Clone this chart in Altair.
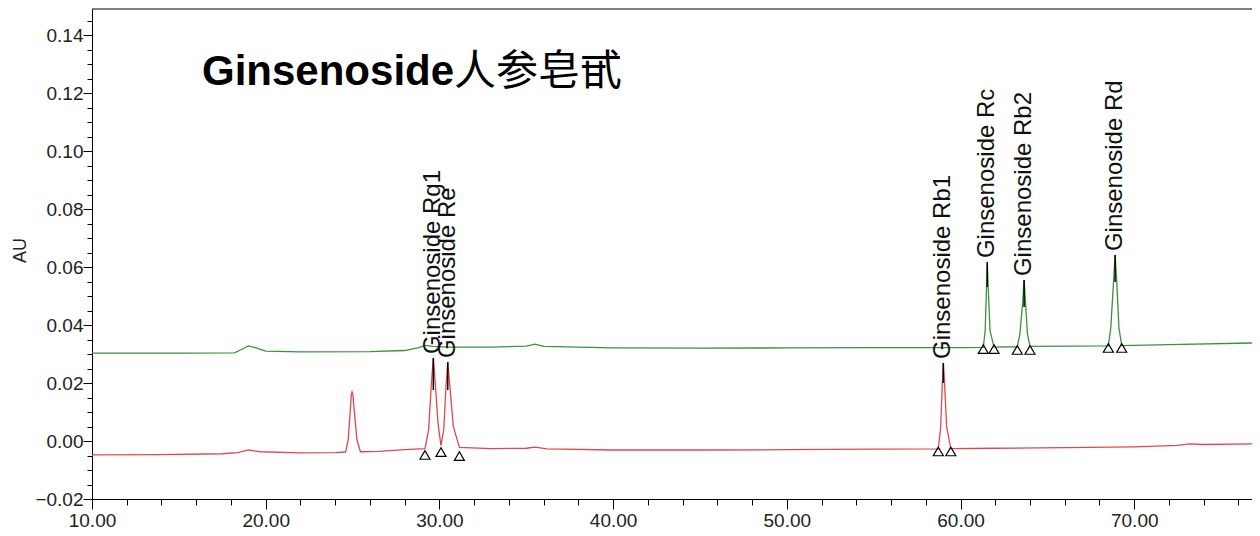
import altair as alt
import pandas as pd

# ---- data ----
red_t = [10.0, 14.0, 17.5, 18.4, 19.0, 19.7, 22.0, 24.0, 24.6, 24.75, 24.85, 24.93, 24.97, 25.02, 25.12, 25.25, 25.45,
         26.5, 28.0, 29.17, 29.38, 29.54, 29.65, 29.76, 29.92, 30.09, 30.25, 30.38, 30.48, 30.6, 30.8, 31.15,
         33.0, 35.0, 35.5, 36.2, 40.0, 45.0, 50.0, 55.0, 58.72, 58.86, 58.95, 59.01, 59.08, 59.2, 59.44,
         62.0, 66.0, 70.0, 72.5, 73.2, 74.0, 76.8]
red_au = [-0.0048, -0.0047, -0.0044, -0.0040, -0.0031, -0.0037, -0.0041, -0.0040, -0.0038, 0.0005, 0.0090, 0.0160, 0.0169, 0.0160, 0.0090, 0.0005, -0.0037,
          -0.0036, -0.0030, -0.0026, 0.0040, 0.0200, 0.0286, 0.0200, 0.0060, -0.0016, 0.0040, 0.0190, 0.0272, 0.0190, 0.0050, -0.0022,
          -0.0026, -0.0025, -0.0021, -0.0027, -0.0031, -0.0031, -0.0030, -0.0028, -0.0027, 0.0050, 0.0200, 0.0269, 0.0200, 0.0050, -0.0026,
          -0.0025, -0.0023, -0.0020, -0.0015, -0.0010, -0.0012, -0.0010]

green_t = [10.0, 15.0, 18.2, 18.7, 19.0, 19.4, 20.0, 22.0, 26.0, 28.0, 28.8, 29.2, 29.6, 30.5, 33.0, 35.0, 35.5, 36.0,
           40.0, 45.0, 50.0, 55.0, 60.0, 61.31, 61.42, 61.49, 61.54, 61.6, 61.7, 61.93,
           63.27, 63.42, 63.58, 63.66, 63.74, 63.85, 64.0, 68.51, 68.65, 68.8, 68.9, 69.0, 69.12, 69.28, 72.0, 76.8]
green_au = [0.0303, 0.0303, 0.0304, 0.0318, 0.0328, 0.0322, 0.0310, 0.0307, 0.0308, 0.0312, 0.0322, 0.0330, 0.0326, 0.0324, 0.0324, 0.0327, 0.0334, 0.0326,
            0.0321, 0.0320, 0.0321, 0.0322, 0.0322, 0.0323, 0.0380, 0.0520, 0.0617, 0.0520, 0.0380, 0.0324,
            0.0325, 0.0370, 0.0480, 0.0555, 0.0480, 0.0370, 0.0326, 0.0328, 0.0390, 0.0540, 0.0641, 0.0540, 0.0390, 0.0329, 0.0332, 0.0338]

peak_names = ["Ginsenoside Rg1", "Ginsenoside Re", "Ginsenoside Rb1", "Ginsenoside Rc", "Ginsenoside Rb2", "Ginsenoside Rd"]
peak_t = [29.65, 30.48, 59.01, 61.54, 63.66, 68.90]
peak_au = [0.0286, 0.0272, 0.0269, 0.0617, 0.0555, 0.0641]
peak_line_end = [0.0176, 0.0176, 0.0200, 0.0531, 0.0462, 0.0548]

marker_t = [29.17, 30.09, 31.15, 58.72, 59.44, 61.31, 61.93, 63.27, 64.00, 68.51, 69.28]
marker_au = [-0.0048, -0.0038, -0.0052, -0.0036, -0.0036, 0.0317, 0.0317, 0.0314, 0.0314, 0.0321, 0.0321]

x_major_ticks = [10, 20, 30, 40, 50, 60, 70]
x_minor_ticks = [12, 14, 16, 18, 22, 24, 26, 28, 32, 34, 36, 38, 42, 44, 46, 48,
                 52, 54, 56, 58, 62, 64, 66, 68, 72, 74, 76]
y_major_ticks = [-0.02, 0.0, 0.02, 0.04, 0.06, 0.08, 0.10, 0.12, 0.14]
y_minor_ticks = [-0.015, -0.01, -0.005, 0.005, 0.01, 0.015, 0.025, 0.03, 0.035, 0.045, 0.05, 0.055,
                 0.065, 0.07, 0.075, 0.085, 0.09, 0.095, 0.105, 0.11, 0.115, 0.125, 0.13, 0.135, 0.145]

title_en = "Ginsenoside"
title_cn = "人参皂甙"

# ---- tables ----
traces = pd.DataFrame({
    "t": red_t + green_t,
    "au": red_au + green_au,
    "s": ["red"] * len(red_t) + ["green"] * len(green_t),
})
peaks = pd.DataFrame({"name": peak_names, "t": peak_t, "au": peak_au, "au2": peak_line_end})
markers = pd.DataFrame({"t": marker_t, "au": marker_au})

W, H = 1160, 490
X_DOM = [10, 76.78]
Y_DOM = [-0.02, 0.14897]
FONT = "Liberation Sans"

xs = alt.Scale(domain=X_DOM, nice=False, zero=False)
ys = alt.Scale(domain=Y_DOM, nice=False, zero=False)

x_major_axis = alt.Axis(orient="bottom", values=x_major_ticks, format=".2f", tickSize=10,
                        labelFont=FONT, labelFontSize=19, labelColor="#222", labelPadding=2,
                        tickColor="black", domainColor="black", grid=False, title=None,
                        labelOverlap=False, labelFlush=False)
x_minor_axis = alt.Axis(orient="bottom", values=x_minor_ticks, tickSize=6, labels=False, domain=False,
                        tickColor="black", grid=False, title=None)
y_major_axis = alt.Axis(orient="left", values=y_major_ticks, format=".2f", tickSize=9,
                        labelFont=FONT, labelFontSize=19, labelColor="#222", labelPadding=0,
                        tickColor="black", domainColor="black", grid=False,
                        title="AU", titleFont=FONT, titleFontSize=18, titleFontWeight="normal",
                        titleColor="#222", titleAngle=270, titleX=-72, titleY=241,
                        titleAlign="center", titleBaseline="middle",
                        labelOverlap=False, labelFlush=False)
y_minor_axis = alt.Axis(orient="left", values=y_minor_ticks, tickSize=5, labels=False, domain=False,
                        tickColor="black", grid=False, title=None)

lines = alt.Chart(traces).mark_line(strokeWidth=1.3, clip=True).encode(
    x=alt.X("t:Q", scale=xs, axis=x_major_axis),
    y=alt.Y("au:Q", scale=ys, axis=y_major_axis),
    color=alt.Color("s:N", scale=alt.Scale(domain=["green", "red"], range=["#3f8f3f", "#e2474f"]), legend=None),
    order="t:Q",
)

tri = alt.Chart(markers).mark_point(shape="triangle-up", filled=False, color="black",
                                    size=100, strokeWidth=1.2, opacity=1).encode(
    x=alt.X("t:Q", scale=xs, axis=x_minor_axis),
    y=alt.Y("au:Q", scale=ys, axis=y_minor_axis),
)

ticks = alt.Chart(peaks).mark_rule(color="black", strokeWidth=1.5).encode(
    x=alt.X("t:Q", scale=xs, axis=None),
    y=alt.Y("au:Q", scale=ys, axis=None),
    y2="au2:Q",
)

labels = alt.Chart(peaks).mark_text(angle=270, align="left", baseline="middle", dx=4,
                                    font=FONT, fontSize=24, color="#111").encode(
    x=alt.X("t:Q", scale=xs, axis=None),
    y=alt.Y("au:Q", scale=ys, axis=None),
    text="name:N",
)

t1 = alt.Chart(pd.DataFrame({"txt": [title_en]})).mark_text(
    align="left", baseline="alphabetic", font=FONT, fontSize=42, fontWeight="bold", color="black"
).encode(x=alt.value(110), y=alt.value(76), text="txt:N")

t2 = alt.Chart(pd.DataFrame({"txt": [title_cn]})).mark_text(
    align="left", baseline="alphabetic", font="Noto Sans CJK SC", fontSize=42, fontWeight="normal", color="black"
).encode(x=alt.value(362), y=alt.value(76), text="txt:N")

top = alt.Chart(pd.DataFrame({"a": [0]})).mark_rule(color="black", strokeWidth=1).encode(
    x=alt.value(0), x2=alt.value(W), y=alt.value(0)
)

chart = alt.layer(lines, tri, ticks, labels, t1, t2, top).resolve_axis(
    x="independent", y="independent"
).properties(
    width=W, height=H,
    autosize=alt.AutoSizeParams(type="none"),
    padding={"left": 84, "top": 1, "right": 0, "bottom": 40},
).configure_view(stroke=None).configure_axis(domainWidth=1, tickWidth=1)

chart.save("out.html", embed_options={"renderer": "svg", "actions": False})
